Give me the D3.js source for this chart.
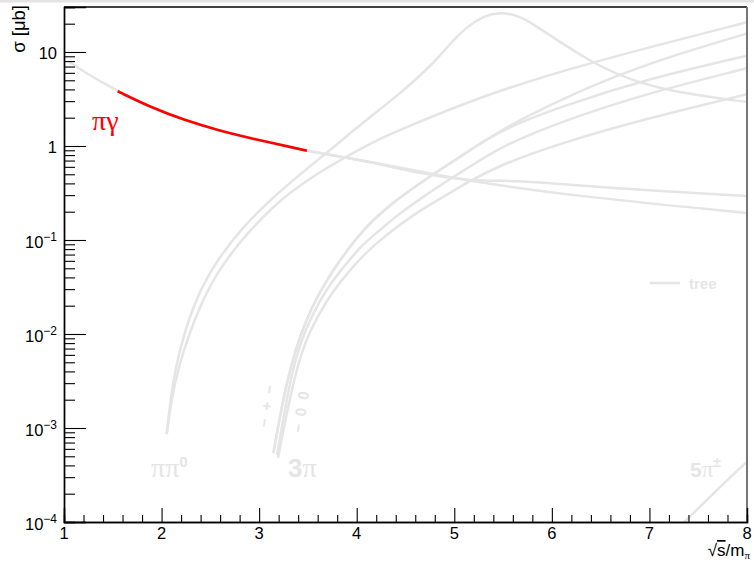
<!DOCTYPE html>
<html><head><meta charset="utf-8">
<script src="https://cdn.jsdelivr.net/npm/d3@7"></script>
<style>body{margin:0;background:#fff} svg{display:block}</style>
</head><body>
<svg id="c" width="754" height="564"></svg>
<script>
// ---------- data (x = sqrt(s)/m_pi, y = sigma in microbarn) ----------
const xTicks = [1, 2, 3, 4, 5, 6, 7, 8];
const yTicks = [1e-4, 1e-3, 1e-2, 1e-1, 1, 10];
const yTickLabels = [["10", "\u22124"], ["10", "\u22123"], ["10", "\u22122"], ["10", "\u22121"], ["1", ""], ["10", ""]];
const xDomain = [1, 8];
const yDomain = [1e-4, 30.1];

// pi gamma -> pi gamma (tree)
const piGammaTree = [[1.05, 7.89], [1.20, 6.17], [1.55, 3.82], [1.89, 2.58], [2.23, 1.89], [2.57, 1.48],
  [2.91, 1.21], [3.49, 0.891], [4.03, 0.71], [4.65, 0.535], [5.19, 0.417], [6.29, 0.289], [8.0, 0.194]];
// pi gamma including resonance (deviates above ~4)
const piGammaFull = [[3.49, 0.891], [4.03, 0.71], [4.40, 0.585], [4.75, 0.49], [5.19, 0.425], [5.50, 0.428],
  [5.78, 0.417], [6.63, 0.355], [8.0, 0.294]];
const redRange = [1.55, 3.49];

// pi pi0 with rho
const pipi0Rho = [[2.053, 8.6e-4], [2.087, 1.85e-3], [2.138, 4.1e-3], [2.22, 9.3e-3], [2.36, 0.025], [2.565, 0.061],
  [2.835, 0.138], [3.111, 0.267], [3.45, 0.529], [3.60, 0.71], [3.78, 1.0], [3.96, 1.445], [4.20, 2.30], [4.44, 3.57],
  [4.79, 7.6], [4.96, 12.4], [5.13, 18.6], [5.30, 24.2], [5.47, 26.6], [5.64, 24.5], [5.74, 21.9], [5.95, 15.8], [6.39, 7.9],
  [6.80, 5.0], [7.31, 3.64], [8.0, 2.93]];
// pi pi0 tree
const pipi0Tree = [[2.053, 8.6e-4], [2.09, 1.66e-3], [2.155, 4.1e-3], [2.394, 0.0214], [2.63, 0.0569], [2.906, 0.128],
  [3.245, 0.289], [3.655, 0.556], [3.83, 0.71], [4.24, 1.20], [4.44, 1.48], [5.26, 3.34], [6.29, 7.28], [8.0, 20.7]];

// 3 pi channels (A and B coincide below ~5.5)
const threePiA = [[3.145, 5.38e-4], [3.245, 1.99e-3], [3.316, 4.14e-3], [3.419, 9.75e-3], [3.552, 0.0204],
  [3.675, 0.0349], [3.829, 0.0612], [3.982, 0.100], [4.136, 0.152], [4.341, 0.236], [4.546, 0.340], [4.802, 0.516],
  [5.059, 0.764], [5.469, 1.48], [6.084, 3.08], [6.63, 5.46], [7.31, 9.68], [8.0, 15.7]];
const threePiB = [[3.145, 5.38e-4], [3.245, 1.99e-3], [3.316, 4.14e-3], [3.419, 9.75e-3], [3.552, 0.0204],
  [3.675, 0.0349], [3.829, 0.0612], [3.982, 0.100], [4.136, 0.152], [4.341, 0.236], [4.546, 0.340], [4.802, 0.516],
  [5.059, 0.764], [5.469, 1.48], [6.084, 2.62], [7.0, 5.25], [8.0, 9.14]];
const threePiC = [[3.183, 5.16e-4], [3.286, 2.14e-3], [3.368, 5.28e-3], [3.470, 0.0110], [3.624, 0.0230],
  [3.757, 0.0375], [3.900, 0.0569], [4.054, 0.0885], [4.239, 0.128], [4.444, 0.194], [4.679, 0.286], [4.936, 0.435],
  [5.223, 0.659], [5.469, 0.97], [6.084, 1.81], [7.0, 3.7], [8.0, 6.71]];
const threePiD = [[3.193, 4.8e-4], [3.316, 2.14e-3], [3.409, 5.28e-3], [3.521, 0.0110], [3.696, 0.0230],
  [3.829, 0.0357], [3.993, 0.0569], [4.167, 0.0863], [4.372, 0.128], [4.608, 0.194], [4.884, 0.286], [5.161, 0.425],
  [5.469, 0.628], [6.084, 1.07], [7.0, 2.0], [8.0, 3.55]];

// 5 pi charged
const fivePi = [[7.30, 8.7e-5], [7.67, 2.09e-4], [8.0, 4.39e-4]];

const grayCurves = [piGammaTree, piGammaFull, pipi0Rho, pipi0Tree, threePiA, threePiB, threePiC, threePiD, fivePi];

// ---------- drawing ----------
const L = 64, R = 747, T = 7, B = 522;
const svg = d3.select("#c");
const sans = "'Liberation Sans', Arial, Helvetica, sans-serif";
const serif = "'Liberation Serif', 'Times New Roman', serif";
const gray = "#e5e5e5";

svg.append("rect").attr("x", 0).attr("y", 0).attr("width", 754).attr("height", 2.5).attr("fill", "#e3e3e3");

const x = d3.scaleLinear().domain(xDomain).range([L, R]);
const y = d3.scaleLog().domain(yDomain).range([B, T]);

svg.append("defs").append("clipPath").attr("id", "clip")
  .append("rect").attr("x", L).attr("y", T).attr("width", R - L).attr("height", B - T);

const line = d3.line().x(d => x(d[0])).y(d => y(d[1])).curve(d3.curveBasis);
const g = svg.append("g").attr("clip-path", "url(#clip)");
g.selectAll("path.gray").data(grayCurves).join("path")
  .attr("class", "gray").attr("d", line)
  .attr("fill", "none").attr("stroke", gray).attr("stroke-width", 2.5);
g.append("path")
  .datum(piGammaTree.filter(d => d[0] >= redRange[0] && d[0] <= redRange[1]))
  .attr("d", line).attr("fill", "none").attr("stroke", "#ff0000").attr("stroke-width", 2.6);

// frame: top and right
svg.append("line").attr("x1", L).attr("x2", R).attr("y1", T).attr("y2", T).attr("stroke", "#000").attr("stroke-width", 1.5);
svg.append("line").attr("x1", R).attr("x2", R).attr("y1", T).attr("y2", B).attr("stroke", "#777").attr("stroke-width", 2);

// x axis
const xMinor = d3.range(1, 8.0001, 0.2).filter(v => Math.abs(v - Math.round(v)) > 1e-6);
const xa = svg.append("g").attr("transform", `translate(0,${B})`);
xa.call(d3.axisBottom(x).tickValues(xTicks).tickSize(-14).tickFormat(""));
xa.append("g").call(d3.axisBottom(x).tickValues(xMinor).tickSize(-7).tickFormat(""));
xa.selectAll(".domain").attr("stroke", "#000").attr("stroke-width", 1.4);
xa.selectAll(".tick line").attr("stroke", "#000").attr("stroke-width", 1.1);
svg.selectAll("text.xl").data(xTicks).join("text").attr("class", "xl")
  .attr("x", d => x(d)).attr("y", 539).attr("text-anchor", "middle")
  .attr("font-family", sans).attr("font-size", 16.5).attr("fill", "#000").text(d => d);

// y axis
const yMinor = [];
yTicks.forEach(dec => { for (let k = 2; k <= 9; k++) { const v = k * dec; if (v <= yDomain[1]) yMinor.push(v); } });
const ya = svg.append("g").attr("transform", `translate(${L},0)`);
ya.call(d3.axisLeft(y).tickValues(yTicks).tickSize(-22).tickFormat(""));
ya.append("g").call(d3.axisLeft(y).tickValues(yMinor).tickSize(-11).tickFormat(""));
ya.selectAll(".domain").attr("stroke", "#000").attr("stroke-width", 1.4);
ya.selectAll(".tick line").attr("stroke", "#000").attr("stroke-width", 1.1);
yTicks.forEach((v, i) => {
  const [base, sup] = yTickLabels[i];
  const t = svg.append("text").attr("x", 57).attr("y", y(v) + (sup ? 8 : 7.3))
    .attr("text-anchor", "end").attr("font-family", sans).attr("fill", "#000");
  t.append("tspan").attr("font-size", 16.5).text(base);
  if (sup) t.append("tspan").attr("font-size", 12).attr("dy", -6.6).text(sup);
});

// axis titles
svg.append("text").attr("transform", "translate(25,5) rotate(-90)").attr("text-anchor", "end")
  .attr("font-family", sans).attr("font-size", 18.5).attr("fill", "#000").text("\u03c3 [\u03bcb]");
const xt = svg.append("text").attr("x", 750).attr("y", 556).attr("text-anchor", "end")
  .attr("font-family", sans).attr("font-size", 17).attr("fill", "#000");
xt.append("tspan").text("\u221a");
xt.append("tspan").attr("style", "text-decoration: overline").text("s");
xt.append("tspan").text("/m");
xt.append("tspan").attr("font-size", 11).attr("dy", 3).attr("font-family", serif).text("\u03c0");

// curve labels
svg.append("text").attr("x", 92).attr("y", 130).attr("font-family", serif).attr("font-size", 28)
  .attr("fill", "#ff0000").text("\u03c0\u03b3");

const l1 = svg.append("text").attr("x", 151).attr("y", 477).attr("fill", gray);
l1.append("tspan").attr("font-family", serif).attr("font-size", 28).text("\u03c0\u03c0");
l1.append("tspan").attr("font-family", sans).attr("font-weight", "bold").attr("font-size", 15).attr("dy", -10).text("0");

const l2 = svg.append("text").attr("x", 288).attr("y", 477).attr("fill", gray);
l2.append("tspan").attr("font-family", sans).attr("font-weight", "bold").attr("font-size", 26).text("3");
l2.append("tspan").attr("font-family", serif).attr("font-size", 28).text("\u03c0");

const l3 = svg.append("text").attr("x", 690).attr("y", 477).attr("fill", gray);
l3.append("tspan").attr("font-family", sans).attr("font-weight", "bold").attr("font-size", 21).text("5");
l3.append("tspan").attr("font-family", serif).attr("font-size", 23).text("\u03c0");
l3.append("tspan").attr("font-family", sans).attr("font-weight", "bold").attr("font-size", 14).attr("dy", -10).text("\u00b1");

svg.append("text").attr("transform", "translate(272,406) rotate(-81)").attr("text-anchor", "middle")
  .attr("font-family", sans).attr("font-weight", "bold").attr("font-size", 15).attr("letter-spacing", 2)
  .attr("fill", gray).text("\u2212 + \u2212");
svg.append("text").attr("transform", "translate(306,412) rotate(-81)").attr("text-anchor", "middle")
  .attr("font-family", sans).attr("font-weight", "bold").attr("font-size", 15).attr("letter-spacing", 2)
  .attr("fill", gray).text("\u2212 0 0");

// legend
svg.append("line").attr("x1", 650).attr("x2", 680).attr("y1", 283).attr("y2", 283)
  .attr("stroke", gray).attr("stroke-width", 2.5);
svg.append("text").attr("x", 689).attr("y", 289).attr("font-family", sans).attr("font-weight", "bold")
  .attr("font-size", 15).attr("fill", gray).text("tree");
</script>
</body></html>
